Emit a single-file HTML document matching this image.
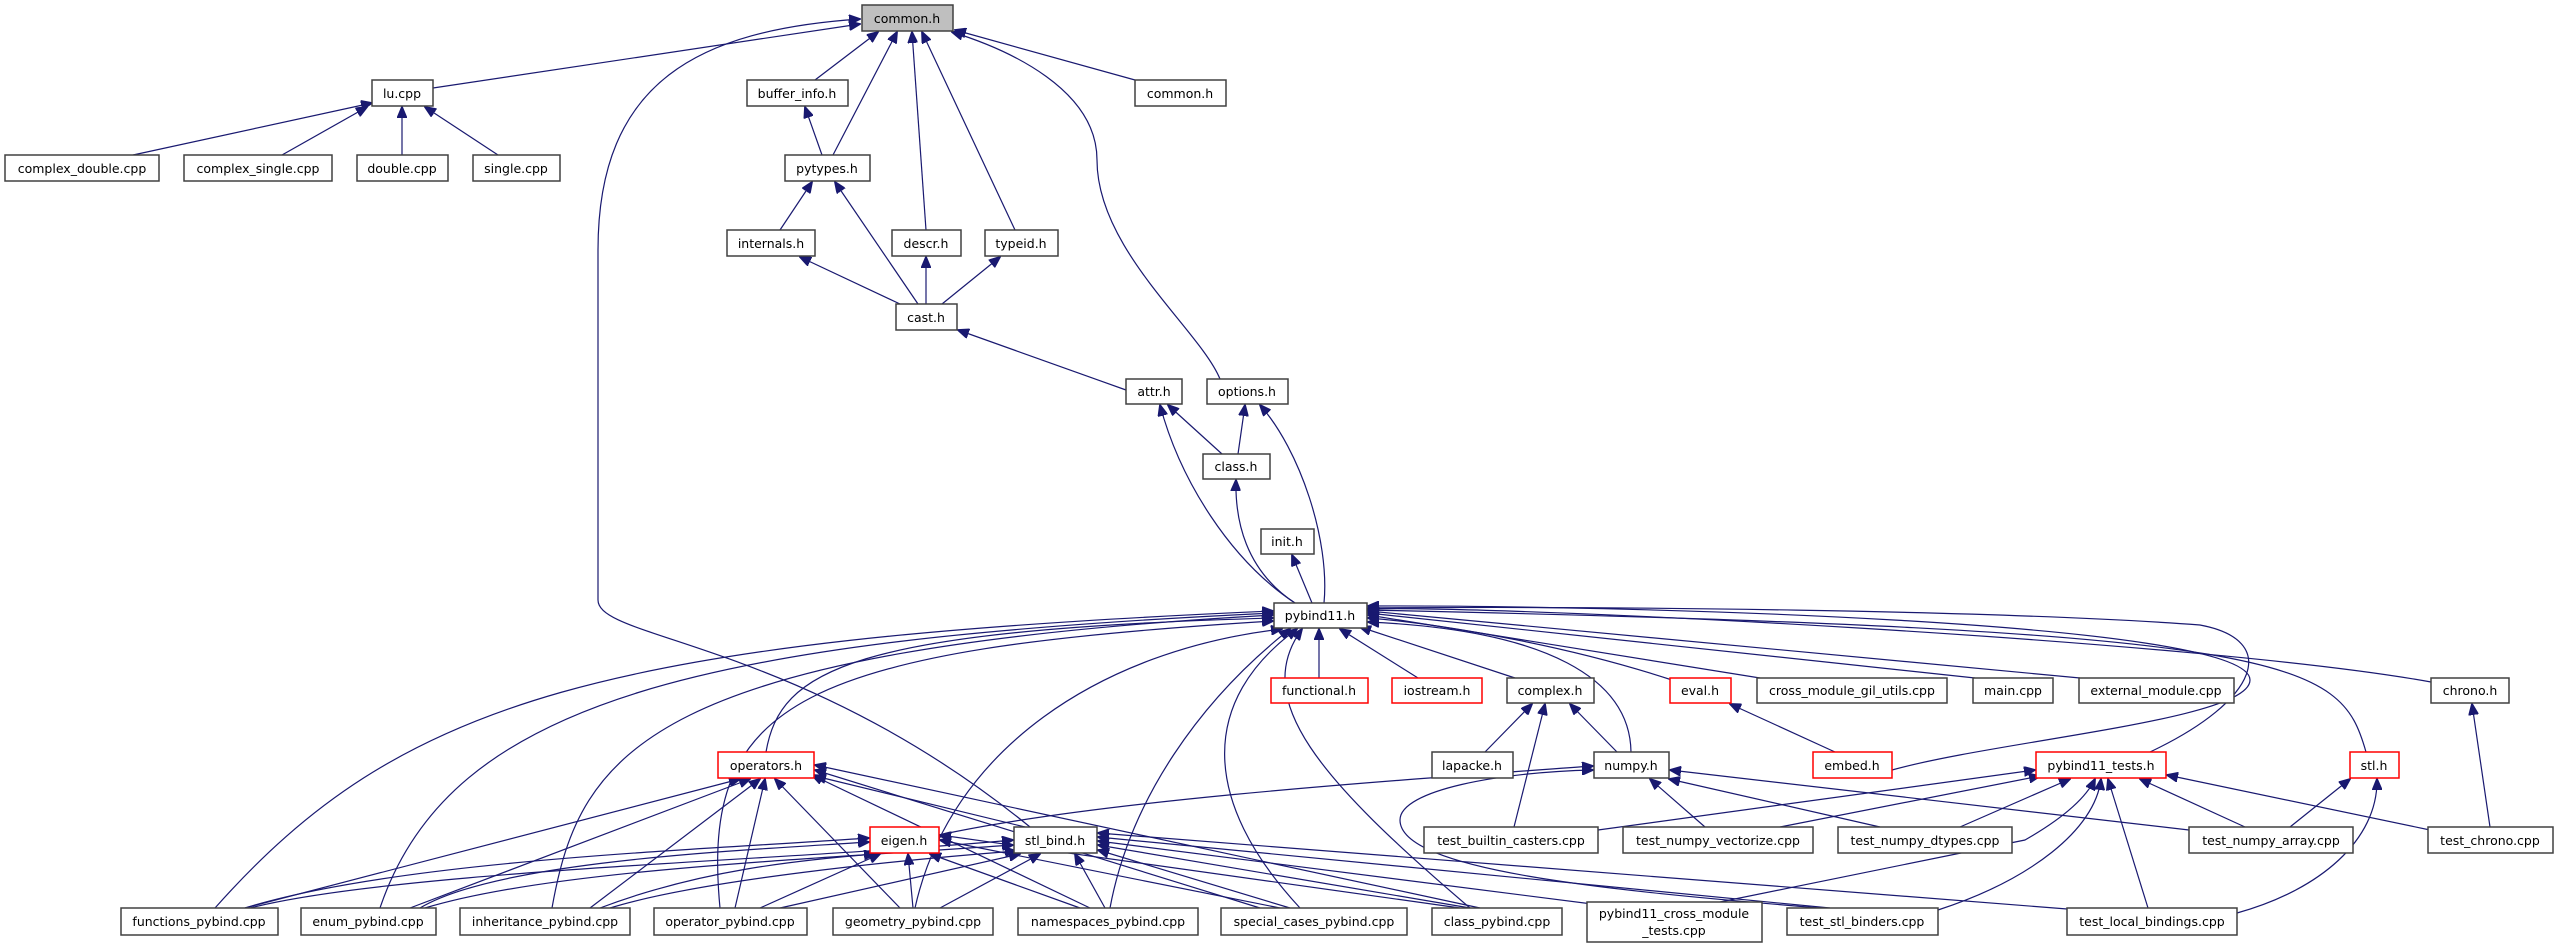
<!DOCTYPE html>
<html><head><meta charset="utf-8"><style>
html,body{margin:0;padding:0;background:#fff;}
svg{display:block;}
text{font-family:"DejaVu Sans","Liberation Sans",sans-serif;font-size:12.5px;fill:#000;text-anchor:middle;}
.n{fill:#fff;stroke:#404040;stroke-width:1.5;}
.r{fill:#fff;stroke:#ff0000;stroke-width:1.5;}
.e path{fill:none;stroke:#191970;stroke-width:1.2;}
</style></head><body>
<svg width="2555" height="948" viewBox="0 0 2555 948" xmlns="http://www.w3.org/2000/svg">
<defs><marker id="a" markerWidth="12" markerHeight="10" refX="11" refY="5" orient="auto" markerUnits="userSpaceOnUse"><path d="M0,0 L12,5 L0,10 z" fill="#191970" stroke="#191970"/></marker></defs>
<g class="e" marker-end="url(#a)">
<path marker-end="url(#a)" d="M433,88 L860,24"/>
<path marker-end="url(#a)" d="M1030,827 C800,640 598,640 598,600 L598,250 C598,80 700,30 860,19"/>
<path marker-end="url(#a)" d="M815,80 L878,32"/>
<path marker-end="url(#a)" d="M833,155 L897,32"/>
<path marker-end="url(#a)" d="M926,230 L912,32"/>
<path marker-end="url(#a)" d="M1015,230 L922,32"/>
<path marker-end="url(#a)" d="M1135,80 L955,30"/>
<path marker-end="url(#a)" d="M1220,379 C1200,330 1097,250 1097,160 C1097,90 1010,50 952,32"/>
<path marker-end="url(#a)" d="M133,155 L372,103"/>
<path marker-end="url(#a)" d="M282,155 L367,107"/>
<path marker-end="url(#a)" d="M402,155 L402,107"/>
<path marker-end="url(#a)" d="M498,155 L425,107"/>
<path marker-end="url(#a)" d="M822,155 L805,107"/>
<path marker-end="url(#a)" d="M780,230 L812,182"/>
<path marker-end="url(#a)" d="M918,304 L835,182"/>
<path marker-end="url(#a)" d="M900,304 L800,257"/>
<path marker-end="url(#a)" d="M926,304 L926,257"/>
<path marker-end="url(#a)" d="M942,304 L1000,257"/>
<path marker-end="url(#a)" d="M1126,390 L958,330"/>
<path marker-end="url(#a)" d="M1222,454 L1168,405"/>
<path marker-end="url(#a)" d="M1238,454 L1245,405"/>
<path marker-end="url(#a)" d="M1295,603 C1230,560 1180,480 1160,405"/>
<path marker-end="url(#a)" d="M1295,603 C1245,570 1235,520 1236,480"/>
<path marker-end="url(#a)" d="M1312,603 L1292,555"/>
<path marker-end="url(#a)" d="M1324,603 C1330,540 1300,450 1260,405"/>
<path marker-end="url(#a)" d="M1319,678 L1319,629"/>
<path marker-end="url(#a)" d="M1418,678 L1340,629"/>
<path marker-end="url(#a)" d="M1515,678 L1360,627"/>
<path marker-end="url(#a)" d="M1672,680 C1550,640 1420,622 1368,618"/>
<path marker-end="url(#a)" d="M1760,678 L1368,615"/>
<path marker-end="url(#a)" d="M1975,678 L1368,613"/>
<path marker-end="url(#a)" d="M2080,678 L1368,611"/>
<path marker-end="url(#a)" d="M2431,682 C2200,640 1500,605 1368,609"/>
<path marker-end="url(#a)" d="M1631,752 C1630,680 1550,630 1368,622"/>
<path marker-end="url(#a)" d="M1892,770 C2000,740 2250,720 2250,680 C2250,620 1600,605 1368,606"/>
<path marker-end="url(#a)" d="M2150,752 C2260,700 2280,640 2200,625 C2000,610 1600,606 1368,608"/>
<path marker-end="url(#a)" d="M2366,752 C2340,660 2300,630 1368,610"/>
<path marker-end="url(#a)" d="M766,752 C780,670 850,630 1273,618"/>
<path marker-end="url(#a)" d="M215,908 C400,700 600,640 1273,611"/>
<path marker-end="url(#a)" d="M380,908 C450,700 700,640 1273,613"/>
<path marker-end="url(#a)" d="M552,908 C580,750 650,650 1273,615"/>
<path marker-end="url(#a)" d="M720,908 C700,700 800,650 1273,621"/>
<path marker-end="url(#a)" d="M915,908 C950,750 1100,650 1282,629"/>
<path marker-end="url(#a)" d="M1110,908 C1130,800 1200,700 1290,629"/>
<path marker-end="url(#a)" d="M1300,908 C1200,800 1200,700 1297,629"/>
<path marker-end="url(#a)" d="M1470,908 C1320,780 1250,700 1302,629"/>
<path marker-end="url(#a)" d="M1485,752 L1532,704"/>
<path marker-end="url(#a)" d="M1617,752 L1570,704"/>
<path marker-end="url(#a)" d="M1514,827 L1545,704"/>
<path marker-end="url(#a)" d="M1835,752 L1730,704"/>
<path marker-end="url(#a)" d="M2490,827 L2472,704"/>
<path marker-end="url(#a)" d="M939,835 C1100,800 1400,780 1593,766"/>
<path marker-end="url(#a)" d="M1705,827 L1650,779"/>
<path marker-end="url(#a)" d="M1880,827 L1669,779"/>
<path marker-end="url(#a)" d="M2189,830 L1670,770"/>
<path marker-end="url(#a)" d="M1820,908 C1600,890 1400,870 1400,820 C1400,790 1500,772 1593,770"/>
<path marker-end="url(#a)" d="M1598,830 L2035,770"/>
<path marker-end="url(#a)" d="M1780,827 L2040,776"/>
<path marker-end="url(#a)" d="M1960,827 L2070,779"/>
<path marker-end="url(#a)" d="M2245,827 L2140,779"/>
<path marker-end="url(#a)" d="M2430,830 L2167,775"/>
<path marker-end="url(#a)" d="M1720,902 L2025,840 C2060,820 2085,800 2095,779"/>
<path marker-end="url(#a)" d="M1938,910 C2030,880 2095,830 2101,779"/>
<path marker-end="url(#a)" d="M2148,908 L2108,779"/>
<path marker-end="url(#a)" d="M2290,827 L2350,779"/>
<path marker-end="url(#a)" d="M2237,913 C2320,890 2378,840 2377,779"/>
<path marker-end="url(#a)" d="M245,908 L740,779"/>
<path marker-end="url(#a)" d="M410,908 L750,779"/>
<path marker-end="url(#a)" d="M590,908 L760,779"/>
<path marker-end="url(#a)" d="M735,908 L765,779"/>
<path marker-end="url(#a)" d="M900,908 L775,779"/>
<path marker-end="url(#a)" d="M1090,908 L812,775"/>
<path marker-end="url(#a)" d="M1260,908 L815,770"/>
<path marker-end="url(#a)" d="M1480,908 L815,765"/>
<path marker-end="url(#a)" d="M1025,827 L815,776"/>
<path marker-end="url(#a)" d="M245,908 C400,860 700,850 869,838"/>
<path marker-end="url(#a)" d="M420,908 C500,860 750,850 869,842"/>
<path marker-end="url(#a)" d="M600,908 C700,870 800,860 875,854"/>
<path marker-end="url(#a)" d="M760,908 L880,854"/>
<path marker-end="url(#a)" d="M913,908 L908,854"/>
<path marker-end="url(#a)" d="M1080,908 L930,854"/>
<path marker-end="url(#a)" d="M1280,908 L940,840"/>
<path marker-end="url(#a)" d="M1460,908 L940,835"/>
<path marker-end="url(#a)" d="M250,908 C400,870 800,860 1013,840"/>
<path marker-end="url(#a)" d="M425,908 C550,870 800,860 1013,845"/>
<path marker-end="url(#a)" d="M610,908 C700,880 900,860 1016,851"/>
<path marker-end="url(#a)" d="M780,908 L1020,854"/>
<path marker-end="url(#a)" d="M940,908 L1040,854"/>
<path marker-end="url(#a)" d="M1105,908 L1075,854"/>
<path marker-end="url(#a)" d="M1290,908 L1098,850"/>
<path marker-end="url(#a)" d="M1470,908 L1098,845"/>
<path marker-end="url(#a)" d="M1600,905 L1098,841"/>
<path marker-end="url(#a)" d="M1830,908 L1098,837"/>
<path marker-end="url(#a)" d="M2080,910 L1098,833"/>
</g>
<g>
<rect x="862" y="5" width="91" height="26" fill="#bfbfbf" stroke="#404040" stroke-width="1.5"/><text x="907" y="23">common.h</text>
<rect class="n" x="372" y="80" width="61" height="26"/><text x="402" y="98">lu.cpp</text>
<rect class="n" x="747" y="80" width="101" height="26"/><text x="797" y="98">buffer_info.h</text>
<rect class="n" x="1135" y="80" width="91" height="26"/><text x="1180" y="98">common.h</text>
<rect class="n" x="5" y="155" width="154" height="26"/><text x="82" y="173">complex_double.cpp</text>
<rect class="n" x="184" y="155" width="148" height="26"/><text x="258" y="173">complex_single.cpp</text>
<rect class="n" x="357" y="155" width="91" height="26"/><text x="402" y="173">double.cpp</text>
<rect class="n" x="473" y="155" width="87" height="26"/><text x="516" y="173">single.cpp</text>
<rect class="n" x="785" y="155" width="85" height="26"/><text x="827" y="173">pytypes.h</text>
<rect class="n" x="727" y="230" width="88" height="26"/><text x="771" y="248">internals.h</text>
<rect class="n" x="892" y="230" width="69" height="26"/><text x="926" y="248">descr.h</text>
<rect class="n" x="985" y="230" width="73" height="26"/><text x="1021" y="248">typeid.h</text>
<rect class="n" x="896" y="304" width="61" height="26"/><text x="926" y="322">cast.h</text>
<rect class="n" x="1126" y="379" width="56" height="25"/><text x="1154" y="396">attr.h</text>
<rect class="n" x="1207" y="379" width="81" height="25"/><text x="1247" y="396">options.h</text>
<rect class="n" x="1203" y="454" width="67" height="25"/><text x="1236" y="471">class.h</text>
<rect class="n" x="1261" y="529" width="53" height="25"/><text x="1287" y="546">init.h</text>
<rect class="n" x="1274" y="603" width="93" height="25"/><text x="1320" y="620">pybind11.h</text>
<rect class="r" x="1271" y="678" width="97" height="25"/><text x="1319" y="695">functional.h</text>
<rect class="r" x="1392" y="678" width="90" height="25"/><text x="1437" y="695">iostream.h</text>
<rect class="n" x="1507" y="678" width="87" height="25"/><text x="1550" y="695">complex.h</text>
<rect class="r" x="1670" y="678" width="61" height="25"/><text x="1700" y="695">eval.h</text>
<rect class="n" x="1757" y="678" width="190" height="25"/><text x="1852" y="695">cross_module_gil_utils.cpp</text>
<rect class="n" x="1973" y="678" width="80" height="25"/><text x="2013" y="695">main.cpp</text>
<rect class="n" x="2079" y="678" width="155" height="25"/><text x="2156" y="695">external_module.cpp</text>
<rect class="n" x="2431" y="678" width="78" height="25"/><text x="2470" y="695">chrono.h</text>
<rect class="r" x="718" y="752" width="96" height="26"/><text x="766" y="770">operators.h</text>
<rect class="n" x="1432" y="752" width="81" height="26"/><text x="1472" y="770">lapacke.h</text>
<rect class="n" x="1594" y="752" width="75" height="26"/><text x="1631" y="770">numpy.h</text>
<rect class="r" x="1813" y="752" width="79" height="26"/><text x="1852" y="770">embed.h</text>
<rect class="r" x="2036" y="752" width="130" height="26"/><text x="2101" y="770">pybind11_tests.h</text>
<rect class="r" x="2350" y="752" width="49" height="26"/><text x="2374" y="770">stl.h</text>
<rect class="r" x="870" y="827" width="69" height="26"/><text x="904" y="845">eigen.h</text>
<rect class="n" x="1014" y="827" width="83" height="26"/><text x="1055" y="845">stl_bind.h</text>
<rect class="n" x="1424" y="827" width="174" height="26"/><text x="1511" y="845">test_builtin_casters.cpp</text>
<rect class="n" x="1623" y="827" width="190" height="26"/><text x="1718" y="845">test_numpy_vectorize.cpp</text>
<rect class="n" x="1838" y="827" width="174" height="26"/><text x="1925" y="845">test_numpy_dtypes.cpp</text>
<rect class="n" x="2189" y="827" width="164" height="26"/><text x="2271" y="845">test_numpy_array.cpp</text>
<rect class="n" x="2428" y="827" width="125" height="26"/><text x="2490" y="845">test_chrono.cpp</text>
<rect class="n" x="121" y="908" width="157" height="27"/><text x="199" y="926">functions_pybind.cpp</text>
<rect class="n" x="301" y="908" width="135" height="27"/><text x="368" y="926">enum_pybind.cpp</text>
<rect class="n" x="460" y="908" width="170" height="27"/><text x="545" y="926">inheritance_pybind.cpp</text>
<rect class="n" x="654" y="908" width="153" height="27"/><text x="730" y="926">operator_pybind.cpp</text>
<rect class="n" x="833" y="908" width="160" height="27"/><text x="913" y="926">geometry_pybind.cpp</text>
<rect class="n" x="1018" y="908" width="180" height="27"/><text x="1108" y="926">namespaces_pybind.cpp</text>
<rect class="n" x="1221" y="908" width="186" height="27"/><text x="1314" y="926">special_cases_pybind.cpp</text>
<rect class="n" x="1432" y="908" width="130" height="27"/><text x="1497" y="926">class_pybind.cpp</text>
<rect class="n" x="1587" y="902" width="175" height="40"/><text x="1674" y="918">pybind11_cross_module</text><text x="1674" y="935">_tests.cpp</text>
<rect class="n" x="1787" y="908" width="151" height="27"/><text x="1862" y="926">test_stl_binders.cpp</text>
<rect class="n" x="2067" y="908" width="170" height="27"/><text x="2152" y="926">test_local_bindings.cpp</text>
</g>
</svg>
</body></html>
